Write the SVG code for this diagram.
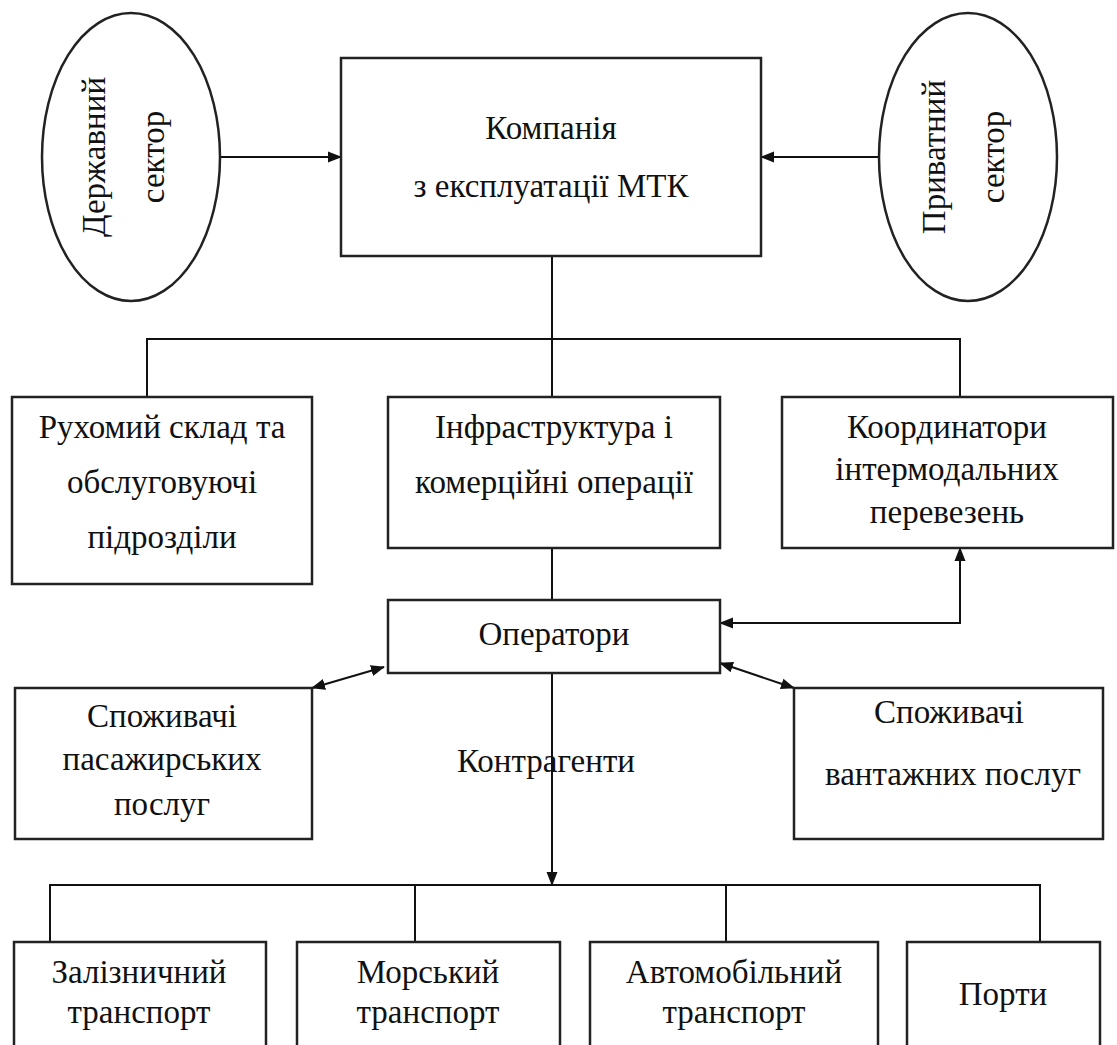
<svg xmlns="http://www.w3.org/2000/svg" width="1117" height="1045" viewBox="0 0 1117 1045">
<defs>
<marker id="ah" markerUnits="userSpaceOnUse" markerWidth="14" markerHeight="12" refX="13" refY="5.5" orient="auto-start-reverse" viewBox="0 0 14 11">
<path d="M0,0 L14,5.5 L0,11 z" fill="#111"/>
</marker>
<style>
.box{fill:#fff;stroke:#222;stroke-width:2.5}
.ln{fill:none;stroke:#111;stroke-width:2}
.t{font-family:"Liberation Serif","Times New Roman",serif;font-size:33px;fill:#111;text-anchor:middle}
</style>
</defs>
<rect width="1117" height="1045" fill="#fff"/>

<g id="connectors">
<line class="ln" x1="220" y1="157" x2="341" y2="157" marker-end="url(#ah)"/>
<line class="ln" x1="879" y1="157" x2="761" y2="157" marker-end="url(#ah)"/>
<line class="ln" x1="552" y1="256" x2="552" y2="339"/>
<polyline class="ln" points="147,397 147,339 960,339 960,397"/>
<line class="ln" x1="552" y1="339" x2="552" y2="397"/>
<line class="ln" x1="552" y1="548" x2="552" y2="600"/>
<polyline class="ln" points="720,623 960,623 960,548" marker-start="url(#ah)" marker-end="url(#ah)"/>
<line class="ln" x1="312" y1="688" x2="384" y2="667" marker-start="url(#ah)" marker-end="url(#ah)"/>
<line class="ln" x1="720" y1="663" x2="794" y2="688" marker-start="url(#ah)" marker-end="url(#ah)"/>
<line class="ln" x1="552" y1="673" x2="552" y2="885" marker-end="url(#ah)"/>
<polyline class="ln" points="50,942 50,885 1040,885 1040,942"/>
<line class="ln" x1="415" y1="885" x2="415" y2="942"/>
<line class="ln" x1="726" y1="885" x2="726" y2="942"/>
</g>

<g id="state-sector">
<ellipse cx="131" cy="157" rx="89" ry="144" class="box" stroke-width="2"/>
<text class="t" transform="translate(105,157) rotate(-90)">Державний</text>
<text class="t" transform="translate(164,157) rotate(-90)">сектор</text>
</g>

<g id="private-sector">
<ellipse cx="968" cy="157" rx="89" ry="144" class="box" stroke-width="2"/>
<text class="t" transform="translate(945,157) rotate(-90)">Приватний</text>
<text class="t" transform="translate(1004,157) rotate(-90)">сектор</text>
</g>

<g id="company">
<rect class="box" x="341" y="58" width="420" height="198"/>
<text class="t" x="551" y="139">Компанія</text>
<text class="t" x="551" y="197">з експлуатації МТК</text>
</g>

<g id="rolling-stock">
<rect class="box" x="12" y="397" width="300" height="187"/>
<text class="t" x="162" y="438">Рухомий склад та</text>
<text class="t" x="162" y="493">обслуговуючі</text>
<text class="t" x="162" y="548">підрозділи</text>
</g>

<g id="infrastructure">
<rect class="box" x="388" y="397" width="332" height="151"/>
<text class="t" x="554" y="438">Інфраструктура і</text>
<text class="t" x="554" y="493">комерційні операції</text>
</g>

<g id="coordinators">
<rect class="box" x="782" y="397" width="331" height="151"/>
<text class="t" x="947" y="438">Координатори</text>
<text class="t" x="947" y="480">інтермодальних</text>
<text class="t" x="947" y="523">перевезень</text>
</g>

<g id="operators">
<rect class="box" x="388" y="600" width="332" height="73"/>
<text class="t" x="554" y="645">Оператори</text>
</g>

<g id="passenger-consumers">
<rect class="box" x="15" y="688" width="297" height="151"/>
<text class="t" x="162" y="727">Споживачі</text>
<text class="t" x="162" y="770">пасажирських</text>
<text class="t" x="162" y="815">послуг</text>
</g>

<g id="counterparties">
<text class="t" x="546" y="772">Контрагенти</text>
</g>

<g id="cargo-consumers">
<rect class="box" x="794" y="688" width="309" height="151"/>
<text class="t" x="949" y="723">Споживачі</text>
<text class="t" x="953" y="785">вантажних послуг</text>
</g>

<g id="rail">
<rect class="box" x="14" y="942" width="252" height="130"/>
<text class="t" x="139" y="983">Залізничний</text>
<text class="t" x="139" y="1023">транспорт</text>
</g>

<g id="sea">
<rect class="box" x="297" y="942" width="263" height="130"/>
<text class="t" x="428" y="983">Морський</text>
<text class="t" x="428" y="1023">транспорт</text>
</g>

<g id="road">
<rect class="box" x="590" y="942" width="288" height="130"/>
<text class="t" x="734" y="983">Автомобільний</text>
<text class="t" x="734" y="1023">транспорт</text>
</g>

<g id="ports">
<rect class="box" x="907" y="942" width="193" height="130"/>
<text class="t" x="1003" y="1005">Порти</text>
</g>
</svg>
